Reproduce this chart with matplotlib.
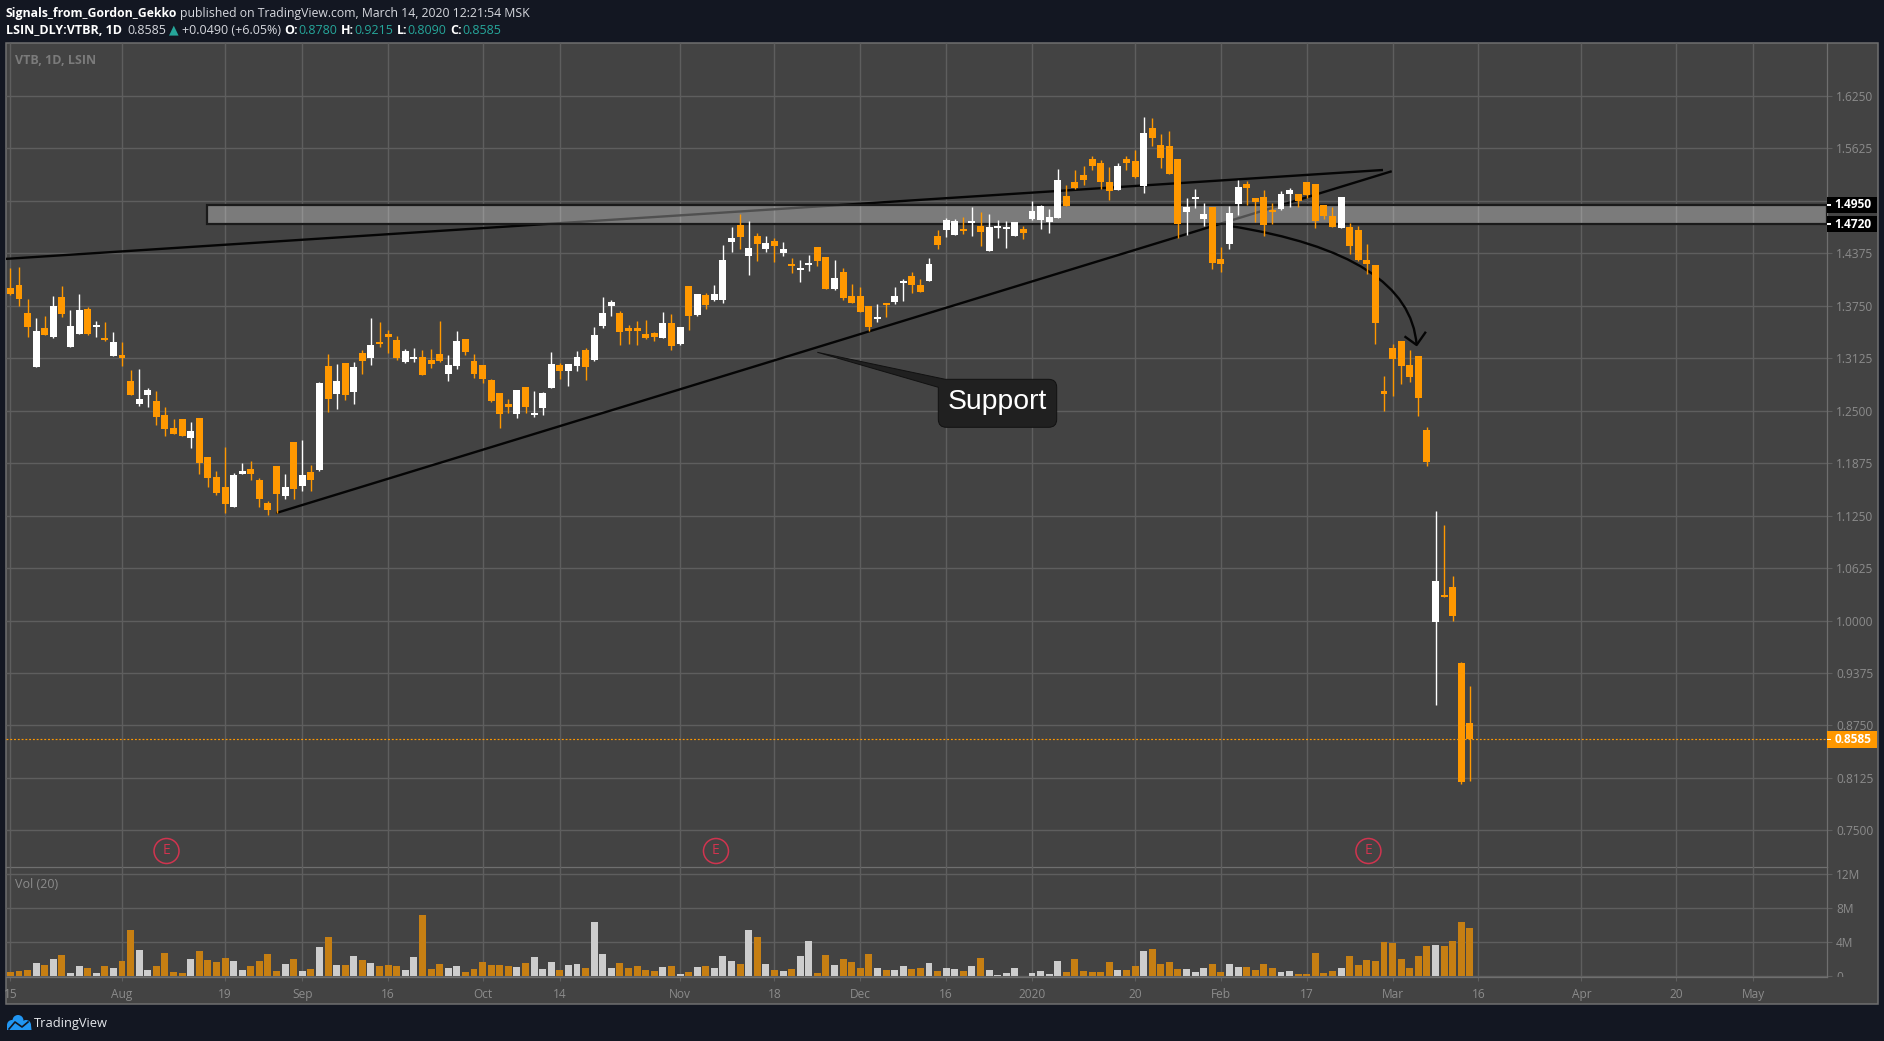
import numpy as np
import matplotlib
matplotlib.use('Agg')
from matplotlib import pyplot as plt
from matplotlib.path import Path
from matplotlib.patches import PathPatch, Rectangle, Circle, Polygon
from matplotlib.transforms import Affine2D, Bbox

opens = [1.3963, 1.3996, 1.3663, 1.3024, 1.3488, 1.3380, 1.3856, 1.3261, 1.3417, 1.3713,
         1.3492, 1.3356, 1.3155, 1.3163, 1.2855, 1.2585, 1.2691, 1.2618, 1.2450, 1.2293,
         1.2400, 1.2179, 1.2412, 1.1948, 1.1711, 1.1592, 1.1357, 1.1751, 1.1805, 1.1673,
         1.1399, 1.1842, 1.1489, 1.2129, 1.1607, 1.1767, 1.1796, 1.3032, 1.2703, 1.3069,
         1.2728, 1.3188, 1.3122, 1.3319, 1.3413, 1.3344, 1.3085, 1.3118, 1.3138, 1.3105,
         1.3176, 1.2941, 1.3036, 1.3356, 1.3093, 1.3044, 1.2868, 1.2712, 1.2581, 1.2466,
         1.2782, 1.2453, 1.2535, 1.2773, 1.3040, 1.2978, 1.3036, 1.3224, 1.3105, 1.3509,
         1.3748, 1.3664, 1.3485, 1.3485, 1.3414, 1.3426, 1.3366, 1.3545, 1.3295, 1.3986,
         1.3640, 1.3879, 1.3819, 1.3819, 1.4510, 1.4713, 1.4343, 1.4582, 1.4427, 1.4522,
         1.4379, 1.4248, 1.4177, 1.4236, 1.4451, 1.4331, 1.3950, 1.4153, 1.3867, 1.3867,
         1.3748, 1.3593, 1.3783, 1.3795, 1.4022, 1.4105, 1.3998, 1.4045, 1.4582, 1.4653,
         1.4594, 1.4665, 1.4737, 1.4701, 1.4403, 1.4677, 1.4665, 1.4582, 1.4665, 1.4784,
         1.4772, 1.4749, 1.4796, 1.5058, 1.5225, 1.5308, 1.5499, 1.5451, 1.5225, 1.5130,
         1.5499, 1.5475, 1.5177, 1.5868, 1.5666, 1.5654, 1.5499, 1.4867, 1.5022, 1.4784,
         1.4927, 1.4307, 1.4486, 1.4963, 1.5201, 1.5034, 1.5046, 1.4879, 1.4903, 1.5082,
         1.5082, 1.5225, 1.5201, 1.4951, 1.4820, 1.4677, 1.4689, 1.4653, 1.4295, 1.4236,
         1.2734, 1.3247, 1.3330, 1.3044, 1.3152, 1.2271, 0.9983, 1.0304, 1.0400, 0.9494,
         0.8780]
highs = [1.4202, 1.4214, 1.3832, 1.3606, 1.3627, 1.3869, 1.3988, 1.3700, 1.3890, 1.3738,
         1.3569, 1.3557, 1.3438, 1.3319, 1.2987, 1.2999, 1.2770, 1.2737, 1.2544, 1.2400,
         1.2400, 1.2367, 1.2412, 1.1948, 1.1784, 1.2067, 1.1763, 1.1879, 1.1896, 1.1698,
         1.1423, 1.1842, 1.1748, 1.2129, 1.2150, 1.1854, 1.2843, 1.3176, 1.3057, 1.3069,
         1.3085, 1.3224, 1.3606, 1.3557, 1.3463, 1.3388, 1.3237, 1.3249, 1.3224, 1.3237,
         1.3569, 1.3163, 1.3446, 1.3356, 1.3176, 1.3044, 1.2880, 1.2712, 1.2638, 1.2749,
         1.2782, 1.2737, 1.2724, 1.3200, 1.3065, 1.3057, 1.3209, 1.3249, 1.3496, 1.3859,
         1.3819, 1.3688, 1.3521, 1.3569, 1.3581, 1.3438, 1.3676, 1.3652, 1.3497, 1.3986,
         1.3891, 1.3902, 1.3998, 1.4474, 1.4689, 1.4844, 1.4760, 1.4617, 1.4582, 1.4558,
         1.4510, 1.4320, 1.4296, 1.4355, 1.4451, 1.4331, 1.4296, 1.4200, 1.4010, 1.3974,
         1.3748, 1.3771, 1.3783, 1.3974, 1.4069, 1.4153, 1.4069, 1.4320, 1.4653, 1.4796,
         1.4784, 1.4808, 1.4927, 1.4868, 1.4844, 1.4772, 1.4760, 1.4749, 1.4701, 1.4999,
         1.4951, 1.4903, 1.5380, 1.5189, 1.5368, 1.5416, 1.5535, 1.5487, 1.5404, 1.5451,
         1.5535, 1.5606, 1.5999, 1.5988, 1.5797, 1.5833, 1.5499, 1.5034, 1.5141, 1.4975,
         1.4927, 1.4450, 1.4939, 1.5249, 1.5237, 1.5034, 1.5130, 1.4975, 1.5118, 1.5153,
         1.5082, 1.5225, 1.5201, 1.4951, 1.4927, 1.5046, 1.4736, 1.4701, 1.4486, 1.4236,
         1.2913, 1.3294, 1.3330, 1.3223, 1.3152, 1.2306, 1.1305, 1.1138, 1.0531, 0.9506,
         0.9215]
lows = [1.3873, 1.3742, 1.3380, 1.3024, 1.3405, 1.3361, 1.3611, 1.3261, 1.3417, 1.3401,
        1.3380, 1.3336, 1.3155, 1.3036, 1.2691, 1.2560, 1.2544, 1.2335, 1.2202, 1.2227,
        1.2202, 1.2059, 1.1751, 1.1596, 1.1497, 1.1280, 1.1357, 1.1740, 1.1678, 1.1357,
        1.1263, 1.1280, 1.1448, 1.1451, 1.1546, 1.1546, 1.1776, 1.2490, 1.2523, 1.2633,
        1.2585, 1.2941, 1.3049, 1.3261, 1.3188, 1.3101, 1.3072, 1.3085, 1.2929, 1.3003,
        1.3085, 1.2859, 1.2991, 1.3163, 1.2893, 1.2831, 1.2609, 1.2297, 1.2470, 1.2416,
        1.2478, 1.2429, 1.2450, 1.2773, 1.2880, 1.2797, 1.2978, 1.2868, 1.3097, 1.3481,
        1.3628, 1.3283, 1.3295, 1.3283, 1.3354, 1.3331, 1.3366, 1.3223, 1.3283, 1.3462,
        1.3628, 1.3712, 1.3807, 1.3783, 1.4391, 1.4427, 1.4117, 1.4284, 1.4391, 1.4272,
        1.4343, 1.4141, 1.4034, 1.4165, 1.4224, 1.3950, 1.3938, 1.3819, 1.3783, 1.3676,
        1.3450, 1.3557, 1.3617, 1.3771, 1.3807, 1.3902, 1.3914, 1.4045, 1.4427, 1.4570,
        1.4594, 1.4606, 1.4582, 1.4463, 1.4403, 1.4558, 1.4439, 1.4582, 1.4546, 1.4772,
        1.4665, 1.4617, 1.4796, 1.4939, 1.5141, 1.5189, 1.5368, 1.5141, 1.5010, 1.5130,
        1.5368, 1.5273, 1.5094, 1.5654, 1.5392, 1.5320, 1.4558, 1.4593, 1.4915, 1.4701,
        1.4188, 1.4152, 1.4427, 1.4832, 1.4951, 1.4748, 1.4581, 1.4724, 1.4891, 1.4927,
        1.4927, 1.5034, 1.4677, 1.4784, 1.4689, 1.4677, 1.4367, 1.4284, 1.4129, 1.3294,
        1.2496, 1.2675, 1.2818, 1.2842, 1.2437, 1.1842, 0.8994, 1.0281, 0.9995, 0.8052,
        0.8090]
closes = [1.3894, 1.3836, 1.3492, 1.3450, 1.3405, 1.3746, 1.3656, 1.3508, 1.3700, 1.3413,
          1.3520, 1.3344, 1.3319, 1.3126, 1.2691, 1.2638, 1.2749, 1.2429, 1.2285, 1.2227,
          1.2202, 1.2260, 1.1871, 1.1702, 1.1517, 1.1394, 1.1735, 1.1780, 1.1740, 1.1451,
          1.1320, 1.1513, 1.1592, 1.1571, 1.1735, 1.1678, 1.2831, 1.2641, 1.2855, 1.2691,
          1.3020, 1.3097, 1.3282, 1.3294, 1.3380, 1.3122, 1.3213, 1.3126, 1.2929, 1.3061,
          1.3097, 1.3044, 1.3332, 1.3205, 1.2941, 1.2880, 1.2618, 1.2466, 1.2544, 1.2749,
          1.2547, 1.2474, 1.2712, 1.3057, 1.2978, 1.3057, 1.3138, 1.3024, 1.3401, 1.3664,
          1.3795, 1.3438, 1.3450, 1.3450, 1.3366, 1.3378, 1.3545, 1.3271, 1.3497, 1.3628,
          1.3891, 1.3759, 1.3891, 1.4296, 1.4558, 1.4570, 1.4439, 1.4486, 1.4498, 1.4463,
          1.4427, 1.4224, 1.4200, 1.4260, 1.4284, 1.3950, 1.4081, 1.3843, 1.3783, 1.3676,
          1.3497, 1.3617, 1.3759, 1.3867, 1.4034, 1.3998, 1.3914, 1.4248, 1.4474, 1.4772,
          1.4760, 1.4641, 1.4760, 1.4629, 1.4689, 1.4689, 1.4689, 1.4749, 1.4617, 1.4880,
          1.4939, 1.4808, 1.5249, 1.4939, 1.5153, 1.5249, 1.5416, 1.5225, 1.5118, 1.5416,
          1.5451, 1.5284, 1.5809, 1.5749, 1.5511, 1.5320, 1.4724, 1.4927, 1.5046, 1.4844,
          1.4260, 1.4248, 1.4855, 1.5165, 1.5153, 1.4987, 1.4712, 1.4867, 1.5082, 1.5130,
          1.4998, 1.5070, 1.4760, 1.4820, 1.4689, 1.5046, 1.4462, 1.4295, 1.4248, 1.3545,
          1.2699, 1.3116, 1.3032, 1.2901, 1.2651, 1.1889, 1.0471, 1.0281, 1.0054, 0.8076,
          0.8585]
volumes = [0.48, 0.59, 0.71, 1.54, 1.31, 2.02, 2.50, 0.36, 1.19, 0.95,
           0.36, 1.19, 0.95, 1.78, 5.35, 3.09, 0.71, 1.19, 2.73, 0.48,
           0.36, 2.02, 2.97, 1.90, 1.66, 2.14, 1.78, 0.71, 1.19, 1.78,
           2.61, 0.59, 1.43, 2.02, 0.59, 0.83, 3.33, 4.51, 1.31, 1.31,
           2.38, 1.90, 1.54, 1.19, 1.31, 1.19, 0.71, 2.26, 7.13, 0.83,
           1.43, 0.95, 1.19, 0.48, 0.83, 1.66, 1.31, 1.31, 1.19, 1.07,
           1.54, 2.26, 0.83, 1.66, 0.71, 1.31, 1.43, 0.95, 6.30, 2.61,
           0.95, 1.54, 0.95, 1.19, 0.71, 0.59, 1.07, 1.19, 0.24, 0.48,
           1.07, 1.19, 0.95, 2.38, 1.78, 1.43, 5.35, 4.51, 1.43, 0.71,
           0.59, 0.83, 2.38, 4.04, 0.36, 2.50, 1.31, 2.02, 1.66, 0.95,
           2.61, 0.95, 0.71, 0.71, 1.19, 0.83, 0.95, 1.54, 0.59, 0.95,
           0.83, 0.59, 1.19, 2.14, 0.71, 0.12, 0.36, 0.95, 0.00, 0.36,
           0.59, 0.24, 1.78, 0.48, 2.02, 0.59, 0.48, 0.48, 1.66, 0.71,
           0.71, 1.19, 2.97, 3.21, 1.43, 1.66, 0.83, 0.83, 0.48, 0.95,
           1.43, 0.48, 1.43, 1.07, 1.07, 0.71, 1.43, 0.95, 0.48, 0.59,
           0.24, 0.24, 2.73, 0.36, 0.59, 0.95, 2.38, 1.31, 1.90, 1.78,
           3.92, 3.80, 2.02, 0.95, 2.38, 3.56, 3.68, 3.56, 4.04, 6.30,
           5.58]

date_ticks = [0, 13, 25, 34, 44, 55, 64, 78, 89, 99, 109, 119, 131, 141, 151, 161, 171, 183, 194, 203]
date_labels = ['15', 'Aug', '19', 'Sep', '16', 'Oct', '14', 'Nov', '18', 'Dec', '16', '2020',
               '20', 'Feb', '17', 'Mar', '16', 'Apr', '20', 'May']
price_ticks = [1.625, 1.5625, 1.5, 1.4375, 1.375, 1.3125, 1.25, 1.1875, 1.125, 1.0625, 1.0,
               0.9375, 0.875, 0.8125, 0.75]
vol_ticks = [0, 4, 8, 12]
vol_labels = ['0', '4M', '8M', '12M']

# drawings, as (bar index, price)
zone_left, zone_low, zone_high = 22.87, 1.472, 1.495
upper_line = [(-0.63, 1.4308), (159.88, 1.5368)]
support_line = [(30.97, 1.1281), (160.9, 1.5353)]
curve_pts = [(142.06, 1.4701), (163.03, 1.4361), (163.8, 1.3283)]
arrow_wings = [(162.5, 1.3378), (163.8, 1.3283), (164.8, 1.3429)]
earnings = [18, 82, 158]
last_price = 0.8585

BG = '#131722'
PANEL = '#434343'
GRID = '#5e5e5e'
FRAME = '#6f6f6f'
ORANGE = '#ff9800'
TEAL = '#26a69a'
AXTEXT = '#8b8b8b'
FONT = ['Open Sans', 'DejaVu Sans']

W, H = 1884, 1041
LEFT, RIGHT, END = 6, 1827, 1878
TOP, MID, AXIS, BOTTOM = 43, 867, 977, 1004
X0, STEP = 10.4, 8.585


def x_to_index(x):
    return (x - X0) / STEP


fig = plt.figure(figsize=(W / 100, H / 100), dpi=100, facecolor=BG)
px = Affine2D().scale(1, -1).translate(0, H)  # picture pixels, origin top left

fig.add_artist(Rectangle((LEFT, TOP), END - LEFT, BOTTOM - TOP, transform=px, facecolor=PANEL,
                         edgecolor=FRAME, lw=1.1, zorder=-1))


def make_axes(top, bottom):
    ax = fig.add_axes([LEFT / W, 1 - bottom / H, (RIGHT - LEFT) / W, (bottom - top) / H])
    ax.set_facecolor('none')
    ax.set_xlim(x_to_index(LEFT), x_to_index(RIGHT))
    ax.yaxis.tick_right()
    ax.tick_params(axis='y', length=3.6, width=0.8, color=GRID, labelcolor=AXTEXT, pad=3)
    ax.set_xticks(date_ticks)
    ax.grid(True, color=GRID, lw=1.0, zorder=1)
    ax.set_axisbelow(True)
    for side, spine in ax.spines.items():
        spine.set_color(FRAME)
        spine.set_linewidth(0.9)
        spine.set_visible(side in ('right', 'bottom'))
    return ax


ax = make_axes(TOP, MID)
ax_vol = make_axes(MID, AXIS)

idx = np.arange(len(opens))
opens = np.array(opens)
closes = np.array(closes)
up = closes >= opens
candle_colors = np.where(up, '#ffffff', ORANGE)
vol_colors = np.where(up, '#cdcdcd', '#c67f13')

# price pane
ax.set_ylim(0.7063, 1.6881)
ax.set_yticks(price_ticks)
ax.set_yticklabels([f'{p:.4f}' for p in price_ticks], fontsize=8.6, family=FONT)
ax.tick_params(axis='x', length=0, labelbottom=False)

for line in (upper_line, support_line):
    xs, ys = zip(*line)
    ax.plot(xs, ys, color='#050505', lw=1.7, zorder=2, solid_capstyle='butt')
curve = Path(curve_pts, [Path.MOVETO, Path.CURVE3, Path.CURVE3])
ax.add_patch(PathPatch(curve, facecolor='none', edgecolor='#050505', lw=1.7, zorder=2))
xs, ys = zip(*arrow_wings)
ax.plot(xs, ys, color='#050505', lw=1.7, zorder=2)

ax.add_patch(Rectangle((zone_left, zone_low), x_to_index(RIGHT) - zone_left, zone_high - zone_low,
                       facecolor=(1, 1, 1, 0.3), edgecolor='#1a1a1a', lw=1.6, zorder=3))
ax.axhline(last_price, color=ORANGE, lw=0.85, ls=(0, (1.6, 1.6)), zorder=4)

ax.vlines(idx, lows, highs, colors=candle_colors, lw=1.0, zorder=5)
ax.bar(idx, np.maximum(np.abs(closes - opens), 0.0024), bottom=np.minimum(opens, closes),
       width=0.81, color=candle_colors, lw=0, zorder=6)

# volume pane
ax_vol.set_ylim(-0.15, 12.82)
ax_vol.set_yticks(vol_ticks)
ax_vol.set_yticklabels(vol_labels, fontsize=8.6, family=FONT)
ax_vol.bar(idx, volumes, width=0.81, color=vol_colors, lw=0, zorder=3)
ax_vol.set_xticks(date_ticks)
ax_vol.set_xticklabels(date_labels, fontsize=8.6, family=FONT)
ax_vol.tick_params(axis='x', length=3.2, width=0.8, color=GRID, labelcolor=AXTEXT, pad=5)
for label in ax_vol.get_yticklabels():
    if label.get_text() == '0':
        label.set_clip_on(True)
        label.set_clip_box(Bbox([[RIGHT, H - AXIS], [END, H - AXIS + 60]]))

# chrome in pixels
renderer = fig.canvas.get_renderer()


def put(x, y, text, **kw):
    kw.setdefault('family', FONT)
    kw.setdefault('fontsize', 9)
    kw.setdefault('va', 'center')
    t = fig.text(x, y, text, transform=px, **kw)
    return t, t.get_window_extent(renderer).x1


def chain(x, y, parts, size=9):
    for text, color, weight, gap in parts:
        _, x = put(x, y, text, color=color, fontweight=weight, fontsize=size)
        x += gap


chain(6, 13, [('Signals_from_Gordon_Gekko', '#ffffff', 'bold', 3),
              ('published on TradingView.com, March 14, 2020 12:21:54 MSK', '#d6d8de', 'normal', 0)], size=8.82)
chain(6, 30, [('LSIN_DLY:VTBR, 1D', '#ffffff', 'bold', 5),
              ('0.8585', '#d6d8de', 'normal', 3),
              ('▲', TEAL, 'normal', 3),
              ('+0.0490 (+6.05%)', '#d6d8de', 'normal', 4),
              ('O:', '#ffffff', 'bold', 0), ('0.8780', TEAL, 'normal', 4),
              ('H:', '#ffffff', 'bold', 0), ('0.9215', TEAL, 'normal', 4),
              ('L:', '#ffffff', 'bold', 0), ('0.8090', TEAL, 'normal', 4),
              ('C:', '#ffffff', 'bold', 0), ('0.8585', TEAL, 'normal', 0)])
put(15, 60, 'VTB, 1D, LSIN', color='#7b7b7b', fontweight='bold')
put(15, 885, 'Vol (20)', color='#8b8b8b')

# earnings markers
for i in earnings:
    cx = 12 + STEP * i
    fig.add_artist(Circle((cx, 851), 12.5, transform=px, facecolor='none', edgecolor='#d0344f', lw=1.1))
    put(cx, 851, 'E', color='#d0344f', ha='center', fontsize=10)


def price_tag(y0, y1, text, face):
    fig.add_artist(Rectangle((RIGHT, y0), END - RIGHT - 1, y1 - y0, transform=px, facecolor=face, edgecolor='none'))
    fig.add_artist(Rectangle((RIGHT, (y0 + y1) / 2 - 0.6), 4, 1.2, transform=px, facecolor='#ffffff', edgecolor='none'))
    put(1853, (y0 + y1) / 2, text, color='#ffffff', ha='center', fontsize=8.6, fontweight='bold')


price_tag(197, 213, '1.4950', '#000000')
price_tag(216, 232, '1.4720', '#000000')
price_tag(731, 748, '0.8585', ORANGE)

# Support callout, a rounded box with its tail
x0, x1, y0, y1, r = 938.3, 1056.7, 379.3, 427.3, 8
box_verts = [(817.3, 352.3), (945.3, y0), (x1 - r, y0), (x1, y0), (x1, y0 + r), (x1, y1 - r), (x1, y1),
             (x1 - r, y1), (x0 + r, y1), (x0, y1), (x0, y1 - r), (x0, 387.3), (817.3, 352.3)]
box_codes = [Path.MOVETO, Path.LINETO, Path.LINETO, Path.CURVE3, Path.CURVE3, Path.LINETO, Path.CURVE3,
             Path.CURVE3, Path.LINETO, Path.CURVE3, Path.CURVE3, Path.LINETO, Path.CLOSEPOLY]
fig.add_artist(PathPatch(Path(box_verts, box_codes), transform=px, facecolor='#202020', edgecolor='#111111', lw=0.7))
put(997.5, 402, 'Support', color='#ffffff', ha='center', family='Liberation Sans', fontsize=20.4)

# TradingView logo
for cx, cy, rad in [(12, 1025, 5), (18, 1020.5, 5.5), (26, 1025, 5)]:
    fig.add_artist(Circle((cx, cy), rad, transform=px, facecolor='#2196f3', edgecolor='none'))
fig.add_artist(Polygon([(7, 1025), (31, 1025), (31.5, 1030), (7, 1030)], transform=px, facecolor='#2196f3', edgecolor='none'))
zig_x, zig_y = [9, 15, 22, 28], [1029, 1022, 1027, 1022]
fig.add_artist(plt.Line2D(zig_x, zig_y, transform=px, color=BG, lw=1.2))
put(34, 1023, 'TradingView', color='#e6e8ec', fontsize=9.3)

fig.savefig('out.png', dpi=100, facecolor=BG)
